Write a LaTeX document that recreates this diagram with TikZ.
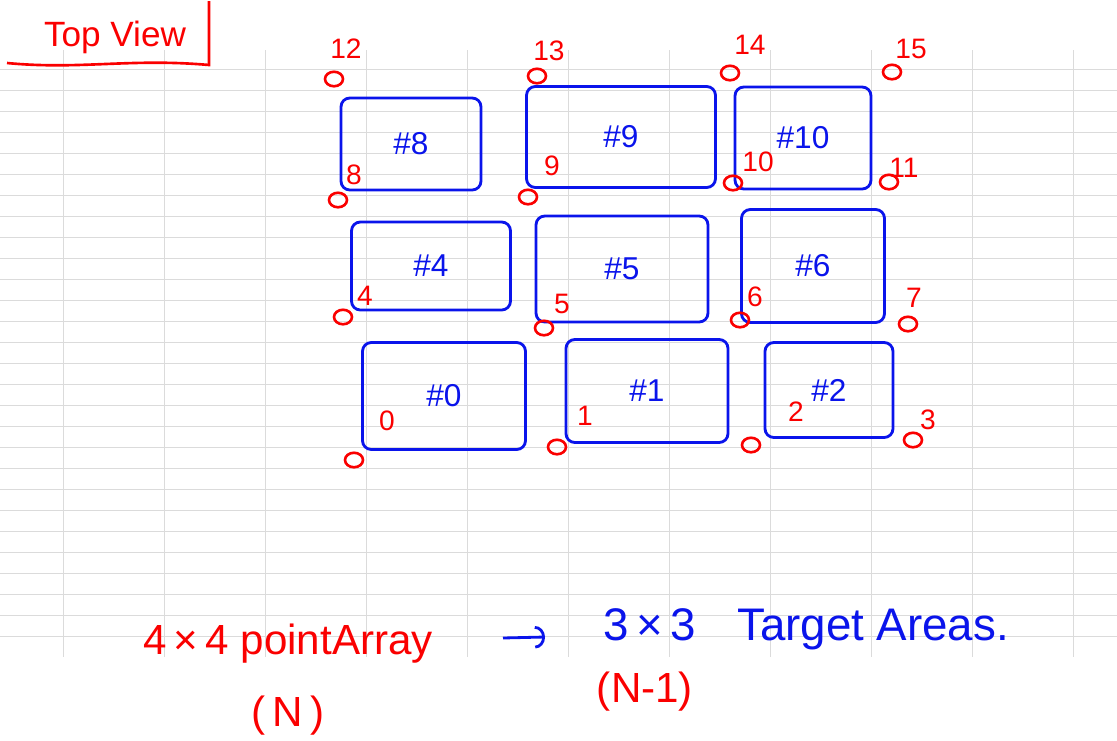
\documentclass[tikz,border=0pt]{standalone}
\usepackage{fontspec}
\setmainfont{Liberation Sans}
\usetikzlibrary{arrows.meta, positioning, shapes.geometric}

\definecolor{stylobleu}{RGB}{10,20,235}
\definecolor{stylorouge}{RGB}{250,0,0}

\begin{document}
\begin{tikzpicture}[
  x=0.02cm, y=-0.02cm,
  grille/.style={black!14, line width=0.5pt},
  zone/.style={rectangle, rounded corners=5pt, draw=stylobleu, line width=1.6pt,
               text=stylobleu, font=\fontsize{18}{20}\selectfont, inner sep=0pt},
  punto/.style={ellipse, draw=stylorouge, line width=1.5pt, inner sep=0pt,
               minimum width=0.36cm, minimum height=0.29cm},
  numero/.style={text=stylorouge, font=\fontsize{16}{18}\selectfont, inner sep=0pt},
  rouge/.style={text=stylorouge, font=\fontsize{24}{26}\selectfont, inner sep=0pt},
  bleu/.style={text=stylobleu, font=\fontsize{26}{28}\selectfont, inner sep=0pt},
  trait/.style={draw=stylorouge, line width=1.5pt},
  fl/.style={-{Arc Barb[length=2mm, width=4.5mm]}, stylobleu, line width=1.6pt}
]
\useasboundingbox (0,0) rectangle (1117,741);

% ---- Background grid ----
\foreach \gy in {0,...,27}
  \draw[grille] (0,69+21*\gy) -- (1117,69+21*\gy);
\foreach \gx in {0,...,10}
  \draw[grille] (63+101*\gx,50) -- (63+101*\gx,657);

% ---- Title ----
\node[text=stylorouge, font=\fontsize{20}{22}\selectfont, inner sep=0pt] (vista) at (115,37) {Top View};
\draw[trait] (7,63) .. controls (80,70) and (130,58) .. (209,65) -- (209,1);

% ---- Target areas ----
\node[zone, minimum width=2.80cm, minimum height=1.84cm] (z8)  at (411,144)   {\#8};
\node[zone, minimum width=3.78cm, minimum height=2.02cm] (z9)  at (621,137)   {\#9};
\node[zone, minimum width=2.72cm, minimum height=2.04cm] (z10) at (803,138)   {\#10};
\node[zone, minimum width=3.18cm, minimum height=1.76cm] (z4)  at (431,266)   {\#4};
\node[zone, minimum width=3.44cm, minimum height=2.12cm] (z5)  at (622,269)   {\#5};
\node[zone, minimum width=2.86cm, minimum height=2.26cm] (z6)  at (813,266)   {\#6};
\node[zone, minimum width=3.26cm, minimum height=2.14cm] (z0)  at (444,396)   {\#0};
\node[zone, minimum width=3.24cm, minimum height=2.06cm] (z1)  at (647,391)   {\#1};
\node[zone, minimum width=2.56cm, minimum height=1.90cm] (z2)  at (829,390)   {\#2};

% ---- Point array ----
\foreach \k/\mx/\my/\lx/\ly in {12/334/79/346/49, 13/537/76/549/51, 14/730/73/750/45, 15/892/72/911/49,
    8/338/200/354/175, 9/528/197/552/166, 10/733/183/758/162, 11/889/182/904/168,
    4/343/317/365/296, 5/544/328/562/304, 6/740/320/755/297, 7/908/324/914/298,
    0/354/460/387/421, 1/557/447/585/416, 2/751/445/796/412, 3/913/440/928/420} {
  \node[punto] (p\k) at (\mx,\my) {};
  \node[numero] (n\k) at (\lx,\ly) {\k};
}

% ---- Note ----
\node[rouge, anchor=base west] (pa) at (143,654) {4\,×\,4 pointArray};
\node[rouge] (pn) at (288,716) {(\,N\,)};
\coordinate (fa) at (503,638);
\coordinate (fb) at (545,637);
\draw[fl] (fa) -- (fb);
\node[bleu, anchor=base west] (ta) at (603,640) {3\,×\,3\hspace{0.9em}Target Areas.};
\node[rouge] (tn) at (645,692) {(N-1)};
\end{tikzpicture}
\end{document}
